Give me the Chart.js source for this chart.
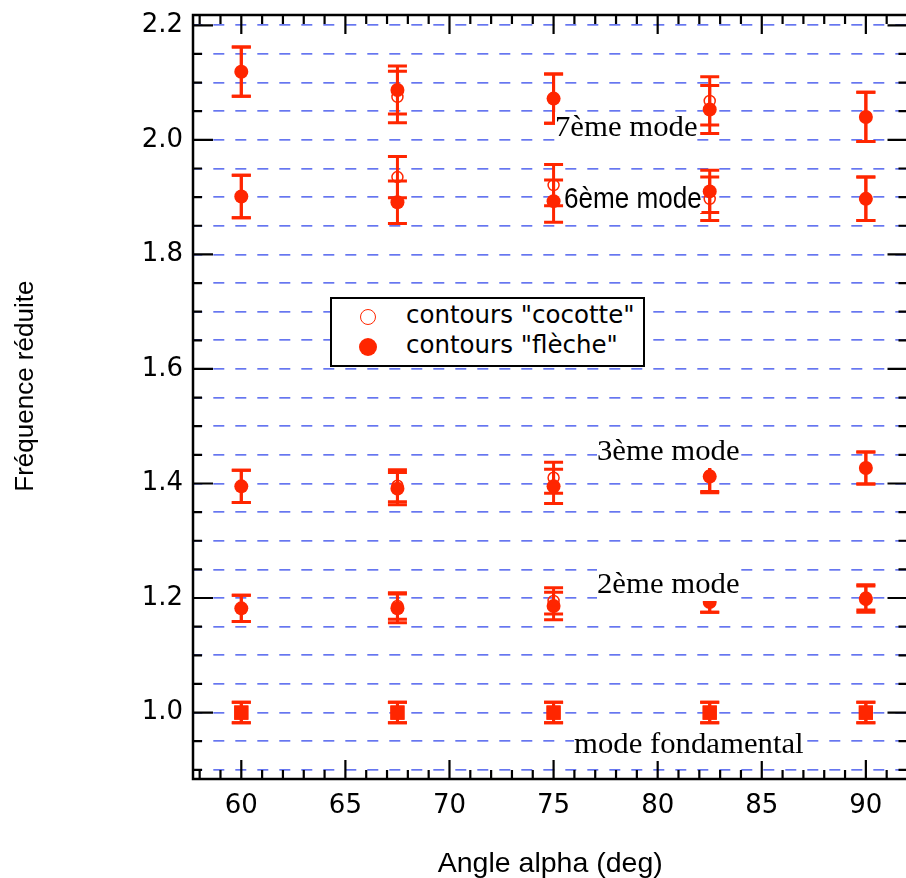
<!DOCTYPE html>
<html>
<head>
<meta charset="utf-8">
<title>Fréquence réduite</title>
<script src="https://cdn.jsdelivr.net/npm/chart.js@4.4.1/dist/chart.umd.min.js"></script>
<style>
  html, body { margin: 0; padding: 0; background: #fff; overflow: hidden; }
  #wrap { position: relative; width: 906px; height: 878px; overflow: hidden; }
  #graph { position: absolute; left: 0; top: 0; }
  .note { position: absolute; background: #fff; color: #000; white-space: nowrap; line-height: 1; transform-origin: 0 0; }
  .serif { font-family: 'Liberation Serif', 'Times New Roman', serif; font-size: 29px; transform: scaleX(1.06); padding-bottom: 3px; }
  .sans { font-family: 'Liberation Sans', Arial, sans-serif; font-size: 30px; transform: scaleX(0.87); }
  #legend { position: absolute; left: 330px; top: 297px; width: 311px; height: 66px; border: 2px solid #000; background: #fff;
            font-family: 'DejaVu Sans', sans-serif; font-size: 24.5px; color: #000; }
  #legend .lt { position: absolute; left: 74px; line-height: 1; white-space: nowrap; }
  #legend .mk { position: absolute; border-radius: 50%; box-sizing: border-box; }
  #legend .hollow { width: 16px; height: 16px; border: 1.5px solid #ff2600; left: 28px; top: 10px; }
  #legend .full { width: 18px; height: 18px; background: #ff2600; left: 27px; top: 39px; }
</style>
</head>
<body>
<div id="wrap">
  <canvas id="graph" width="920" height="878"></canvas>
  <div id="legend">
    <span class="mk hollow"></span>
    <span class="lt" style="top:4px">contours "cocotte"</span>
    <span class="mk full"></span>
    <span class="lt" style="top:34px">contours "flèche"</span>
  </div>
  <div class="note serif" style="left:555px;top:112px">7ème mode</div>
  <div class="note sans" style="left:564px;top:183px">6ème mode</div>
  <div class="note serif" style="left:597px;top:436px">3ème mode</div>
  <div class="note serif" style="left:597px;top:569px">2ème mode</div>
  <div class="note serif" style="left:574px;top:729px">mode fondamental</div>
</div>
<script>
// angles of the outline (deg)
const angles = [60, 67.5, 75, 82.5, 90];

// contours "flèche" (filled markers)
const flecheMode1 = [1.0, 1.0, 1.0, 1.0, 1.0];
const flecheErr1  = [0.018, 0.018, 0.018, 0.018, 0.018];
const flecheMode2 = [1.182, 1.182, 1.186, 1.193, 1.198];
const flecheErr2  = [0.023, 0.025, 0.024, 0.018, 0.023];
const flecheMode3 = [1.395, 1.391, 1.395, 1.412, 1.427];
const flecheErr3  = [0.028, 0.028, 0.030, 0.028, 0.028];
const flecheMode6 = [1.901, 1.891, 1.893, 1.910, 1.897];
const flecheErr6  = [0.037, 0.037, 0.037, 0.037, 0.038];
const flecheMode7 = [2.119, 2.087, 2.072, 2.053, 2.040];
const flecheErr7  = [0.043, 0.042, 0.043, 0.042, 0.043];

// contours "cocotte" (hollow markers)
const cocotteMode1 = [1.0, 1.0, 1.0, 1.0, 1.0];
const cocotteErr1  = [0.018, 0.018, 0.018, 0.018, 0.018];
const cocotteMode2 = [1.182, 1.186, 1.195, 1.193, 1.201];
const cocotteErr2  = [0.023, 0.023, 0.023, 0.018, 0.022];
const cocotteMode3 = [1.395, 1.396, 1.410, 1.414, 1.427];
const cocotteErr3  = [0.028, 0.028, 0.027, 0.028, 0.028];
const cocotteMode6 = [1.901, 1.935, 1.921, 1.897, 1.897];
const cocotteErr6  = [0.037, 0.036, 0.036, 0.038, 0.038];
const cocotteMode7 = [2.119, 2.075, 2.072, 2.068, 2.040];
const cocotteErr7  = [0.043, 0.045, 0.043, 0.042, 0.043];

// axis ticks
const xTicks = [60, 65, 70, 75, 80, 85, 90];
const yTicks = [1.0, 1.2, 1.4, 1.6, 1.8, 2.0, 2.2];

const RED = '#ff2600';
const GRID = 'rgb(102,118,240)';

let yGrid = [];
for (let k = 18; k <= 44; k++) yGrid.push(k / 20);

const datasets = [];

function addSeries(values, errs, hollow, square){
    // vertical error bar
    datasets.push({
        type: 'scatter', showLine: true, spanGaps: false, order: 5,
        borderColor: RED, borderWidth: 3, pointRadius: 0,
        data: angles.flatMap((a, i) => [
            {x: a, y: values[i] - errs[i]},
            {x: a, y: values[i] + errs[i]},
            {x: a, y: null}
        ])
    });
    // caps
    datasets.push({
        type: 'scatter', order: 4,
        pointStyle: 'line', pointRadius: 9.5, pointBorderWidth: 3, borderColor: RED,
        data: angles.flatMap((a, i) => [
            {x: a, y: values[i] - errs[i]},
            {x: a, y: values[i] + errs[i]}
        ])
    });
    // markers
    datasets.push({
        type: 'scatter', order: hollow ? 1 : 2,
        pointStyle: square ? 'rect' : 'circle',
        pointRadius: square ? 10 : (hollow ? 5.5 : 7),
        pointBorderWidth: hollow ? 1.5 : 0,
        borderColor: RED,
        backgroundColor: hollow ? 'rgba(255,255,255,0)' : RED,
        data: angles.map((a, i) => ({x: a, y: values[i]}))
    });
}

addSeries(cocotteMode1, cocotteErr1, false, true);
addSeries(flecheMode1, flecheErr1, false, true);
addSeries(cocotteMode2, cocotteErr2, true, false);
addSeries(flecheMode2, flecheErr2, false, false);
addSeries(cocotteMode3, cocotteErr3, true, false);
addSeries(flecheMode3, flecheErr3, false, false);
addSeries(cocotteMode6, cocotteErr6, true, false);
addSeries(flecheMode6, flecheErr6, false, false);
addSeries(cocotteMode7, cocotteErr7, true, false);
addSeries(flecheMode7, flecheErr7, false, false);

// box around the plot with inward ticks on every side
const frame = {
    id: 'frame',
    afterDraw(chart){
        const {ctx, chartArea: a, scales: {x, y}} = chart;
        ctx.save();
        ctx.strokeStyle = '#000';
        ctx.lineWidth = 2.2;
        ctx.beginPath();
        for (let v = 58; v <= 92; v++){
            const px = x.getPixelForValue(v);
            if (px < a.left + 2 || px > a.right - 2) continue;
            const len = v % 5 === 0 ? 19 : 9;
            ctx.moveTo(px, a.top); ctx.lineTo(px, a.top + len);
            ctx.moveTo(px, a.bottom); ctx.lineTo(px, a.bottom - len);
        }
        yGrid.forEach(v => {
            const py = y.getPixelForValue(v);
            const major = yTicks.some(t => Math.abs(t - v) < 1e-6);
            const len = major ? 20 : 9;
            ctx.moveTo(a.left, py); ctx.lineTo(a.left + len, py);
            ctx.moveTo(a.right, py); ctx.lineTo(a.right - len, py);
        });
        ctx.stroke();
        ctx.lineWidth = 2.5;
        ctx.strokeRect(a.left, a.top, a.right - a.left, a.bottom - a.top);
        ctx.restore();
    }
};

Chart.defaults.font.family = "'DejaVu Sans', sans-serif";
Chart.defaults.color = '#000';

new Chart(document.getElementById('graph'), {
    type: 'scatter',
    data: { datasets: datasets },
    options: {
        responsive: false,
        animation: false,
        devicePixelRatio: 1,
        layout: { padding: { top: 15, right: 10, left: 0, bottom: 0 } },
        plugins: { legend: { display: false }, tooltip: { enabled: false } },
        scales: {
            x: {
                type: 'linear', min: 57.68, max: 92.0,
                afterBuildTicks: s => { s.ticks = xTicks.map(v => ({value: v})); },
                afterFit: s => { s.height = 99; s.paddingLeft = 0; s.paddingRight = 0; },
                grid: { display: false, drawTicks: false },
                border: { display: false },
                ticks: { autoSkip: false, padding: 12, maxRotation: 0, font: { size: 26 }, callback: v => String(v) },
                title: { display: true, text: 'Angle alpha (deg)', padding: 0,
                         font: { family: "'Liberation Sans', Arial, sans-serif", size: 28.5, lineHeight: 0.95 } }
            },
            y: {
                type: 'linear', min: 0.884, max: 2.218,
                afterBuildTicks: s => { s.ticks = yGrid.map(v => ({value: v})); },
                afterFit: s => { s.width = 193; s.paddingTop = 0; s.paddingBottom = 0; },
                grid: { color: GRID, lineWidth: 1.7, drawTicks: false },
                border: { display: false, dash: [11, 11], dashOffset: 1.7 },
                ticks: { autoSkip: false, padding: 10, font: { size: 26 },
                         callback: v => yTicks.some(t => Math.abs(t - v) < 1e-6) ? v.toFixed(1) : '' },
                title: { display: true, text: '   Fréquence réduite', padding: { top: 10, bottom: 0 },
                         font: { family: "'Liberation Sans', Arial, sans-serif", size: 26 } }
            }
        }
    },
    plugins: [frame]
});
</script>
</body>
</html>
